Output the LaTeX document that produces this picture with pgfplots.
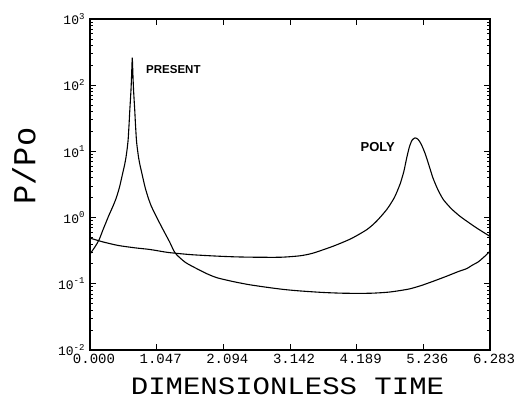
\documentclass[border=0pt]{standalone}
\usepackage{fontspec}
\setmainfont{Liberation Mono}
\newfontfamily\labfont{Liberation Sans}
\usepackage{pgfplots}
\pgfplotsset{compat=1.18}
\newcommand{\dec}[1]{10\raisebox{0.8ex}{\fontsize{9}{9}\selectfont #1}}
\begin{document}
\begin{tikzpicture}[x=1pt,y=1pt]
\begin{axis}[
  at={(90pt,50pt)}, anchor=south west,
  scale only axis, width=400pt, height=331pt,
  xmin=0, xmax=6.283, ymode=log, ymin=1e-2, ymax=1e3,
  xtick={0,1.047,2.094,3.142,4.189,5.236,6.283},
  xticklabels={0.000,1.047,2.094,3.142,4.189,5.236,6.283},
  minor x tick num=1,
  ytick={1e-2,1e-1,1,1e1,1e2,1e3},
  yticklabels={\dec{-2},\dec{-1},\dec{0},\dec{1},\dec{2},\dec{3}},
  tick align=inside,
  major tick length=6pt, minor tick length=3pt,
  every tick/.style={black, line width=0.8pt},
  axis line style={line width=1.2pt},
  xticklabel style={font=\fontsize{14}{14}\selectfont, xshift=4pt, yshift=-1pt},
  yticklabel style={font=\fontsize{13}{13}\selectfont, xshift=-2pt},
]
\addplot[black, line width=1.1pt, smooth, tension=0.4] coordinates {
(0,0.28) (0.05,0.33) (0.1,0.39) (0.15,0.48) (0.2,0.64) (0.25,0.84) (0.3,1.1)
(0.36,1.48) (0.414,2.0) (0.464,2.9) (0.514,4.7) (0.544,6.3) (0.564,8) (0.584,11)
(0.599,15) (0.614,26) (0.624,40) (0.634,58) (0.644,85) (0.652,130) (0.658,190)
(0.662,240) (0.664,260) (0.666,240) (0.670,190) (0.676,130) (0.684,85) (0.694,58)
(0.704,40) (0.714,26) (0.729,15) (0.744,11) (0.764,8) (0.784,6.3) (0.814,4.7)
(0.864,2.9) (0.914,2.0) (0.964,1.48) (1.05,1.0) (1.147,0.66) (1.25,0.43) (1.34,0.29)
(1.5,0.21) (1.7,0.165) (1.85,0.14) (2.0,0.123) (2.25,0.108) (2.5,0.097) (2.8,0.088)
(3.05,0.082) (3.3,0.078) (3.66,0.074) (4.0,0.072) (4.4,0.072) (4.7,0.075) (5.0,0.083)
(5.2,0.094) (5.4,0.11) (5.6,0.13) (5.8,0.155) (5.92,0.17) (6.0,0.19) (6.1,0.215)
(6.2,0.26) (6.283,0.31)
};
\addplot[black, line width=1.1pt, smooth, tension=0.4] coordinates {
(0,0.49) (0.2,0.43) (0.44,0.38) (0.7,0.35) (0.94,0.33) (1.2,0.30) (1.335,0.29)
(1.6,0.275) (1.99,0.262) (2.3,0.255) (2.6,0.252) (3.0,0.252) (3.3,0.265) (3.5,0.29)
(3.82,0.37) (4.1,0.48) (4.35,0.66) (4.5,0.88) (4.66,1.32) (4.78,2.0) (4.87,3.2)
(4.93,5.0) (4.975,8) (5.02,12) (5.06,14.8) (5.105,16) (5.15,15.3) (5.2,13) (5.26,9.5)
(5.3,7.3) (5.34,5.5) (5.39,3.9) (5.46,2.7) (5.55,1.87) (5.68,1.35) (5.81,1.05)
(5.95,0.84) (6.07,0.70) (6.18,0.60) (6.283,0.52)
};
\node[font=\labfont\bfseries\fontsize{11.5}{12}\selectfont] at (axis cs:1.31,170) {PRESENT};
\node[font=\labfont\bfseries\fontsize{13}{13}\selectfont] at (axis cs:4.52,11.8) {POLY};
\end{axis}
\node[font=\fontsize{25}{25}\selectfont, anchor=south, inner sep=0pt] at (287.5,5) {\scalebox{1.16}[1]{DIMENSIONLESS TIME}};
\node[font=\fontsize{32}{32}\selectfont, rotate=90, inner sep=0pt] at (24,234) {P/Po};
\pgfresetboundingbox
\path[use as bounding box] (0,0) rectangle (515,400);
\end{tikzpicture}
\end{document}
